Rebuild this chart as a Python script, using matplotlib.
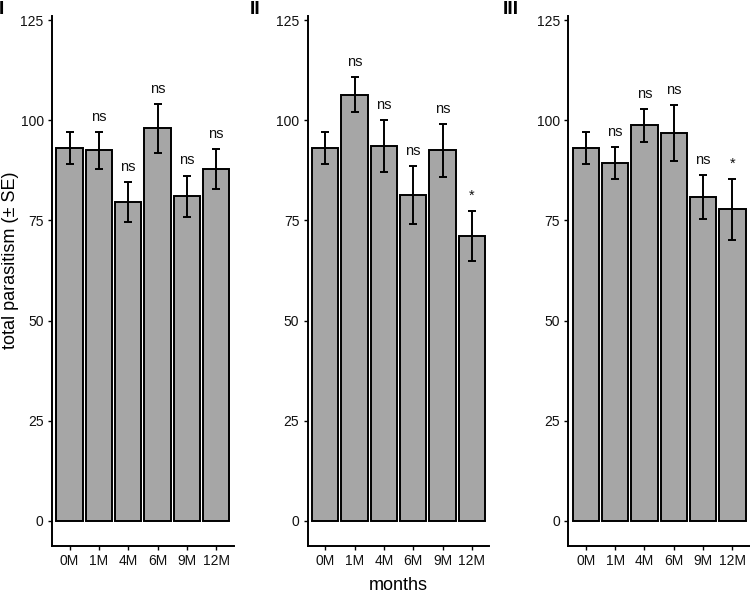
import matplotlib
matplotlib.use("Agg")
import matplotlib.pyplot as plt
import numpy as np

plt.rcParams['font.family'] = ['Liberation Sans', 'DejaVu Sans']

months = ["0M", "1M", "4M", "6M", "9M", "12M"]
panel_names = ["I", "II", "III"]

means_I = [93.0, 92.5, 79.5, 98.0, 81.0, 87.8]
se_I = [4.0, 4.6, 5.0, 6.1, 5.2, 4.9]
sig_I = ["", "ns", "ns", "ns", "ns", "ns"]

means_II = [93.0, 106.4, 93.5, 81.3, 92.5, 71.1]
se_II = [4.0, 4.3, 6.5, 7.2, 6.6, 6.2]
sig_II = ["", "ns", "ns", "ns", "ns", "*"]

means_III = [93.0, 89.3, 98.7, 96.8, 80.8, 77.8]
se_III = [4.0, 4.0, 4.1, 6.9, 5.5, 7.6]
sig_III = ["", "ns", "ns", "ns", "ns", "*"]

panels = [(means_I, se_I, sig_I), (means_II, se_II, sig_II), (means_III, se_III, sig_III)]

W, H = 750, 592
fig = plt.figure(figsize=(7.5, 5.92), dpi=100)

lefts = [52, 307.7, 568.3]
ax_w = 181.7
top_px, bot_px = 16, 546
label_x = [-1.5, 250, 503]

for i, ((m, s, sig), lx) in enumerate(zip(panels, lefts)):
    ax = fig.add_axes([lx / W, 1 - bot_px / H, ax_w / W, (bot_px - top_px) / H])
    x = np.arange(len(months))
    ax.bar(x, m, width=0.9, color="#A6A6A6", edgecolor="black", linewidth=1.4, zorder=2)
    ax.errorbar(x, m, yerr=s, fmt="none", ecolor="black", elinewidth=1.4,
                capsize=3, capthick=1.4, zorder=3)
    for xi, mi, si, lab in zip(x, m, s, sig):
        if lab:
            ax.text(xi, mi + si + 2.0, lab, ha="center", va="bottom",
                    fontsize=10.5, color="#111111")
    ax.set_xlim(-0.6, 5.6)
    ax.set_ylim(-6.25, 126)
    ax.set_yticks([0, 25, 50, 75, 100, 125])
    ax.set_xticks(x)
    ax.set_xticklabels(months)
    for sp in ["top", "right"]:
        ax.spines[sp].set_visible(False)
    for sp in ["left", "bottom"]:
        ax.spines[sp].set_linewidth(1.4)
    ax.tick_params(axis="both", length=3, width=1.0, labelsize=10,
                   labelcolor="#111111", pad=3)
    ax.patch.set_alpha(0)
    fig.text(label_x[i] / W, 1 - 14 / H, panel_names[i], fontsize=14,
             fontweight="bold", ha="left", va="baseline", color="black")

fig.text(11 / W, 1 - 260 / H, "total parasitism (± SE)", rotation=90,
         ha="center", va="center", fontsize=13)
fig.text(398 / W, 1 - 585 / H, "months", ha="center", va="center", fontsize=13)

fig.savefig("out.png", dpi=100)
